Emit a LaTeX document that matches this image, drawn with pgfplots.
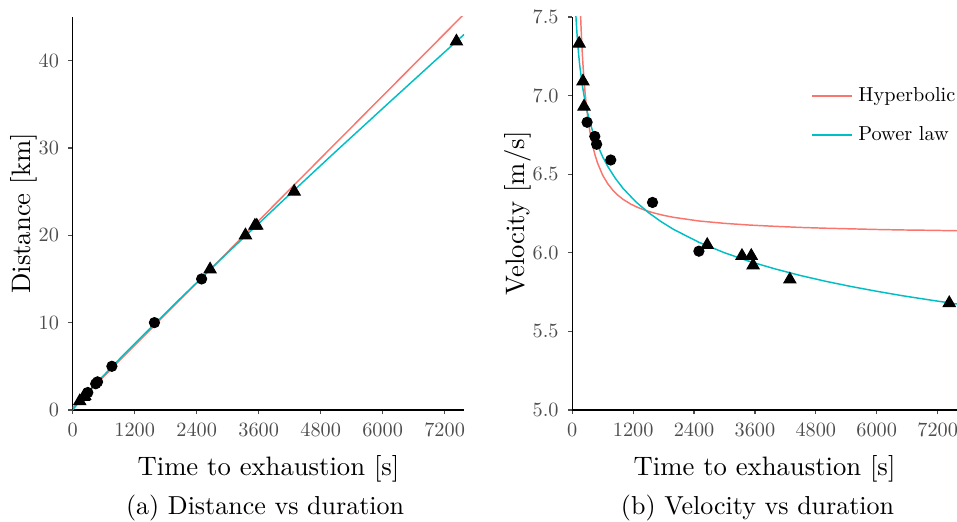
\documentclass[border=0pt]{standalone}
\usepackage{pgfplots}
\pgfplotsset{compat=1.18}
\definecolor{hypc}{HTML}{F8766D}
\definecolor{powc}{HTML}{00BFC4}
\definecolor{tickgray}{HTML}{4D4D4D}
\newcommand{\sm}[1]{\scalebox{0.76}{#1}}
\pgfplotsset{
 myaxis/.style={
   scale only axis,
   axis lines*=left,
   axis line style={black, line width=0.45pt},
   tick align=outside,
   major tick length=1.6pt,
   tick style={tickgray, line width=0.45pt},
   ticklabel style={font=\fontsize{10}{12}\selectfont, text=tickgray},
   label style={font=\fontsize{10}{12}\selectfont},
   xmin=0, xmax=7580,
   xtick={0,1200,...,7200},
   scaled x ticks=false,
   xticklabel={\sm{\pgfmathprintnumber[1000 sep={}]{\tick}}},
   clip=true,
 },
 circ/.style={only marks, mark=*, mark size=1.9pt, black, forget plot},
 tri/.style={only marks, mark=triangle*, mark size=2.6pt, black, forget plot},
}
\begin{document}
\begin{tikzpicture}
% ---------- (a) distance ----------
\begin{axis}[myaxis, at={(27.26pt,42pt)}, anchor=south west,
  width=146.85pt, height=147.4pt,
  ymin=0, ymax=45, ytick={0,10,20,30,40},
  yticklabel={\sm{\pgfmathprintnumber{\tick}}},
  xlabel={Time to exhaustion [s]}, ylabel={Distance [km]},
  ylabel style={at={(rel axis cs:-0.126,0.5)}, anchor=center}]
\addplot[hypc, line width=0.55pt] coordinates {(0,0.25) (7580,45.35)};
\addplot[powc, line width=0.55pt] coordinates {
(0,0) (10,0.085) (50,0.384) (100,0.736) (200,1.413) (500,3.341) (1000,6.409)
(2000,12.29) (3000,18.00) (4000,23.58) (5000,29.09) (6000,34.52) (7000,39.91) (7580,43.01)};
\addplot[circ] coordinates {(292.8,2.0) (445.1,3.0) (481.2,3.219) (758.7,5.0) (1582.3,10.0) (2495.8,15.0)};
\addplot[tri] coordinates {(136.4,1.0) (211.6,1.5) (232.2,1.609) (2660,16.093) (3344.5,20.0) (3528,21.0975) (3563.8,21.0975) (4288.2,25.0) (7428.7,42.195)};
\end{axis}
% ---------- (b) velocity ----------
\begin{axis}[myaxis, at={(214.6pt,42pt)}, anchor=south west,
  width=144.26pt, height=147.4pt,
  ymin=5, ymax=7.5, ytick={5,5.5,6,6.5,7,7.5},
  yticklabel={\sm{\pgfmathprintnumber[fixed,fixed zerofill,precision=1]{\tick}}},
  xlabel={Time to exhaustion [s]}, ylabel={Velocity [m/s]},
  ylabel style={at={(rel axis cs:-0.142,0.5)}, anchor=center},
  legend style={draw=none, fill=none, at={(0.6,0.85)}, anchor=north west,
    font=\fontsize{10}{12}\selectfont, row sep=3.8pt},
  legend cell align=left,
  legend image code/.code={\draw[#1] (0pt,0pt) -- (13pt,0pt); \path (0pt,0pt) -- (15pt,0pt);}]
\addplot[hypc, line width=0.55pt] coordinates {
(150,7.643) (165.5,7.500) (180,7.388) (190,7.321) (200,7.260) (212,7.195) (225,7.132)
(250,7.030) (275,6.946) (300,6.877) (325,6.818) (350,6.767) (400,6.685) (450,6.621)
(500,6.570) (600,6.493) (700,6.439) (800,6.398) (900,6.366) (1000,6.340) (1150,6.310)
(1300,6.287) (1450,6.269) (1600,6.254) (1800,6.238) (2000,6.225) (2500,6.202)
(3000,6.187) (3500,6.176) (4000,6.168) (4500,6.161) (5000,6.156) (5500,6.152)
(6000,6.148) (6500,6.145) (7000,6.143) (7580,6.140)};
\addlegendentry{\sm{Hyperbolic}}
\addplot[powc, line width=0.55pt] coordinates {
(60,7.593) (70,7.523) (80,7.463) (100,7.364) (125,7.265) (150,7.186) (200,7.062)
(250,6.967) (300,6.892) (400,6.774) (500,6.683) (600,6.610) (700,6.549) (850,6.473)
(1000,6.410) (1250,6.325) (1500,6.256) (1750,6.198) (2000,6.148) (2500,6.066)
(3000,6.000) (3500,5.944) (4000,5.897) (4500,5.855) (5000,5.818) (5500,5.785)
(6000,5.755) (6500,5.727) (7000,5.702) (7580,5.674)};
\addlegendentry{\sm{Power law}}
\addplot[circ] coordinates {(292.8,6.83) (445.1,6.74) (481.2,6.69) (758.7,6.59) (1582.3,6.32) (2495.8,6.01)};
\addplot[tri] coordinates {(136.4,7.33) (211.6,7.09) (232.2,6.93) (2660,6.05) (3344.5,5.98) (3528,5.98) (3563.8,5.92) (4288.2,5.83) (7428.7,5.68)};
\end{axis}
\node[font=\fontsize{9.75}{12}\selectfont] at (99.4pt,5.4pt) {(a) Distance vs duration};
\node[font=\fontsize{9.75}{12}\selectfont] at (284.1pt,5.4pt) {(b) Velocity vs duration};
\pgfresetboundingbox
\path (0,0) rectangle (358.9pt,195.75pt);
\end{tikzpicture}
\end{document}
